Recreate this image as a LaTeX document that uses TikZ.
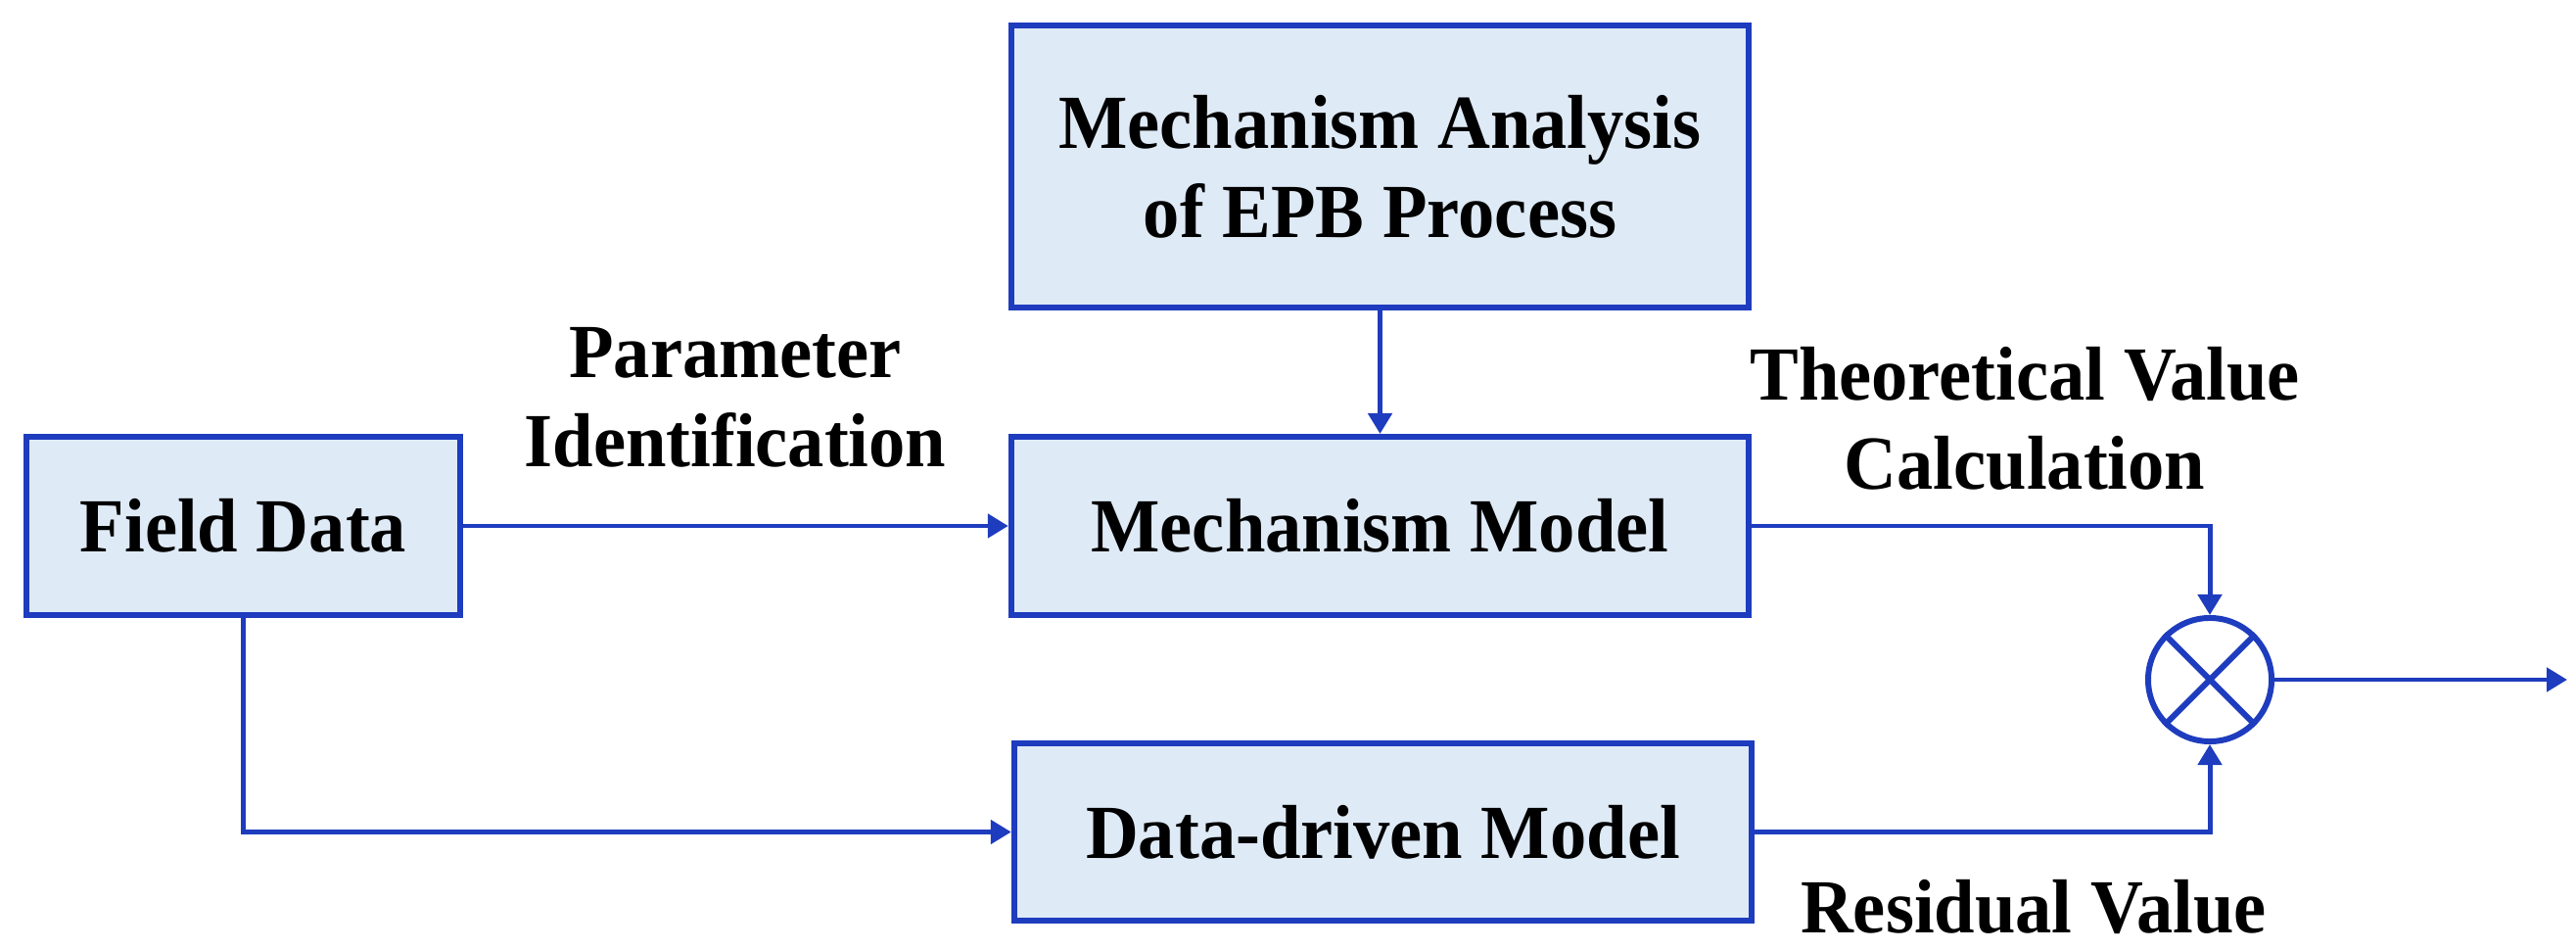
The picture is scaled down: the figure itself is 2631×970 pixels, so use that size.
\documentclass[tikz,border=0pt]{standalone}
\usepackage{fontspec}
\setmainfont[FakeStretch=0.955]{Liberation Serif}
\usetikzlibrary{arrows.meta}
\definecolor{lineblue}{HTML}{1E3CBE}
\definecolor{boxfill}{HTML}{DEEAF6}
\newcommand\mylblfont{\fontsize{22.2pt}{25.9pt}\selectfont\bfseries}
\begin{document}
\begin{tikzpicture}[x=0.01cm,y=-0.01cm,
  blk/.style={draw=lineblue, fill=boxfill, line width=1.7pt, minimum width=7.53cm, inner sep=0pt, align=center, font=\mylblfont},
  conn/.style={draw=lineblue, line width=1.4pt, -{Triangle[width=0.24cm,length=0.21cm]}},
  lbl/.style={inner sep=0pt, align=center, font=\mylblfont}]
\useasboundingbox (0,0) rectangle (2631,970);
\node[blk, minimum width=4.43cm, minimum height=1.82cm] (fd) at (248.5,537) {Field Data};
\node[blk, minimum height=2.88cm] (ma) at (1409.5,170) {Mechanism Analysis\\of EPB Process};
\node[blk, minimum height=1.82cm] (mm) at (1409.5,537) {Mechanism Model};
\node[blk, minimum height=1.81cm] (dd) at (1412.5,849.5) {Data-driven Model};
\node[draw=lineblue, line width=1.7pt, circle, minimum size=1.26cm, inner sep=0pt] (c) at (2257,694) {};
\draw[lineblue, line width=1.7pt] (c.45) -- (c.225) (c.135) -- (c.315);
\coordinate (out) at (2622,694);
\draw[conn] (fd.east) -- (mm.west);
\draw[conn] (fd.south) |- (dd.west);
\draw[conn] (ma.south) -- (mm.north);
\draw[conn] (mm.east) -| (c.north);
\draw[conn] (dd.east) -| (c.south);
\draw[conn] (c.east) -- (out);
\node[lbl, anchor=north] (pi) at (751,334) {Parameter\\Identification};
\node[lbl, anchor=north] (tv) at (2068,354) {Theoretical Value\\Calculation};
\node[lbl, anchor=base] (rv) at (2077,952) {Residual Value};
\end{tikzpicture}
\end{document}
